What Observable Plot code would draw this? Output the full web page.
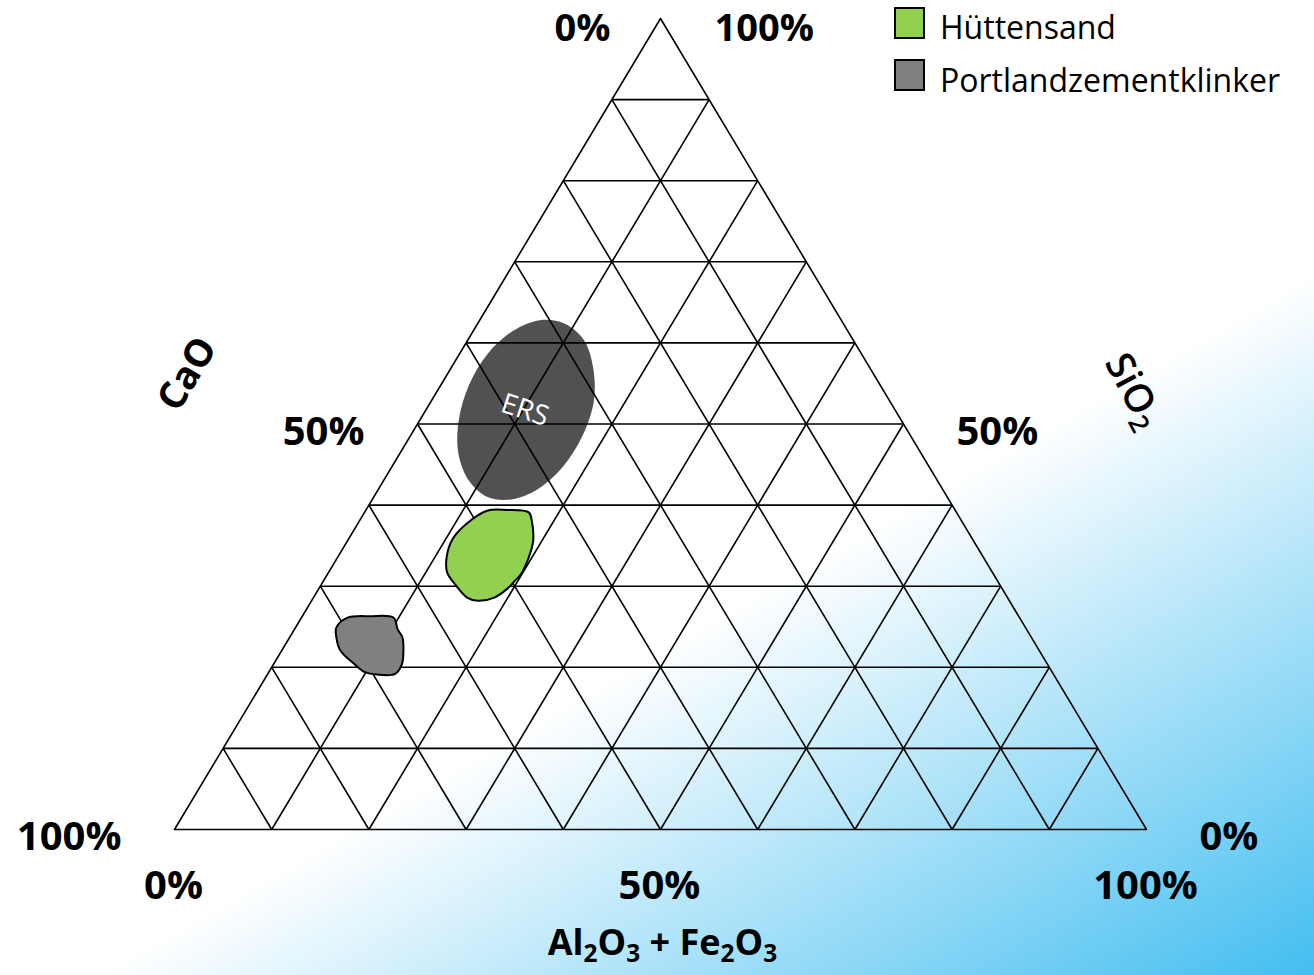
<!DOCTYPE html>
<html><head><meta charset="utf-8">
<script src="https://cdn.jsdelivr.net/npm/d3@7"></script>
<script src="https://cdn.jsdelivr.net/npm/@observablehq/plot@0.6"></script>
<style>
html,body{margin:0;padding:0;overflow:hidden;background:#fff;}
#wrap{position:relative;width:1314px;height:975px;background:linear-gradient(150deg,#ffffff 0%,#ffffff 59.5%,#43bef0 100%);font-family:"Open Sans",sans-serif;}
#chart svg{display:block;}
.sw{position:absolute;left:894px;width:31px;height:32px;box-sizing:border-box;border:2px solid #000;}
.lt{position:absolute;left:940px;font-size:32px;line-height:32px;color:#000;white-space:nowrap;}
</style></head>
<body><div id="wrap"><div id="chart"></div></div>
<script>
// ---- data (ternary compositions in %: CaO, SiO2; Al2O3+Fe2O3 = rest) ----
const ersCaO  = [28.7,27.7,28.4,30.4,33.7,37.6,41.6,45.0,47.3,48.2,47.6,45.5,42.3,38.4,34.4,31.0];
const ersSiO2 = [62.4,60.4,57.1,52.9,48.6,44.8,42.0,40.7,41.0,43.0,46.4,50.5,54.8,58.7,61.5,62.8];
const ersLabel = {name: "ERS", CaO: 38.1, SiO2: 51.7};

const slagCaO  = [44.0,46.1,48.2,51.1,53.5,55.2,56.1,56.0,55.6,54.7,52.8,50.9,49.6,48.6,46.9,45.3,44.2];
const slagSiO2 = [39.1,39.4,39.3,37.7,35.8,33.6,31.7,30.1,28.6,28.2,28.6,29.7,30.7,31.5,33.4,35.6,38.1];

const clinkerCaO  = [69.2,66.7,64.4,64.7,64.7,65.4,66.4,67.7,69.6,70.7,71.3,71.9,71.5,70.9];
const clinkerSiO2 = [26.1,26.3,26.1,24.7,23.7,22.1,20.4,19.2,19.1,19.4,20.4,22.1,23.7,24.9];

const gridSteps = [10,20,30,40,50,60,70,80,90];
const tickValues = [0,50,100];
const axisTitles = ["CaO", "SiO_2", "Al_2O_3 + Fe_2O_3"];
const legendNames = ["Hüttensand", "Portlandzementklinker"];
const legendColors = ["#92d050", "#808080"];

// ---- ternary projection ----
const tern = (ca, si) => ({x: (100 - ca - si + si / 2) / 100, y: si / 100});
const shape = (cas, sis) => cas.map((c, i) => tern(c, sis[i]));

const ers = shape(ersCaO, ersSiO2);
const slag = shape(slagCaO, slagSiO2);
const clinker = shape(clinkerCaO, clinkerSiO2);

const grid = [];
for (const k of gridSteps) {
  const a = tern(100 - k, k), b = tern(0, k);          // SiO2 constant
  grid.push({x1: a.x, y1: a.y, x2: b.x, y2: b.y});
  const c = tern(k, 100 - k), d = tern(k, 0);          // CaO constant
  grid.push({x1: c.x, y1: c.y, x2: d.x, y2: d.y});
  const e = tern(100 - k, 0), f = tern(0, 100 - k);    // Al2O3+Fe2O3 constant
  grid.push({x1: e.x, y1: e.y, x2: f.x, y2: f.y});
}
const border = [tern(100, 0), tern(0, 0), tern(0, 100)];

const FONT = "Open Sans";
const pctStyle = {fontSize: 40, fontWeight: "bold", fill: "black", fontFamily: FONT};
const topTicks = tickValues.filter(t => t === 0);
const midTicks = tickValues.filter(t => t !== 0);

const chart = Plot.plot({
  width: 1314, height: 975,
  marginLeft: 174, marginRight: 168, marginTop: 18, marginBottom: 146,
  x: {domain: [0, 1], axis: null},
  y: {domain: [0, 1], axis: null},
  style: {background: "transparent", overflow: "visible", fontFamily: FONT},
  marks: [
    Plot.line(ers, {x: "x", y: "y", curve: "catmull-rom-closed", fill: "#515151", stroke: "none"}),
    Plot.link(grid, {x1: "x1", y1: "y1", x2: "x2", y2: "y2", stroke: "black", strokeWidth: 1.6}),
    Plot.line(border, {x: "x", y: "y", curve: "linear-closed", stroke: "black", strokeWidth: 1.6, fill: "none"}),
    Plot.line(slag, {x: "x", y: "y", curve: "catmull-rom-closed", fill: legendColors[0], stroke: "black", strokeWidth: 2}),
    Plot.line(clinker, {x: "x", y: "y", curve: "catmull-rom-closed", fill: legendColors[1], stroke: "black", strokeWidth: 2}),
    Plot.text([ersLabel], {x: d => tern(d.CaO, d.SiO2).x, y: d => tern(d.CaO, d.SiO2).y, text: "name",
      rotate: 18, fill: "white", fontSize: 28, fontFamily: FONT}),
    // CaO axis (left edge): top label separately so it stays inside the page
    Plot.text(topTicks, {x: t => tern(t, 100 - t).x, y: t => tern(t, 100 - t).y, text: t => t + "%",
      textAnchor: "end", dx: -50, dy: 10, ...pctStyle, fontSize: 38}),
    Plot.text(midTicks, {x: t => tern(t, 100 - t).x, y: t => tern(t, 100 - t).y, text: t => t + "%",
      textAnchor: "end", dx: -53, dy: 8, ...pctStyle}),
    // SiO2 axis (right edge)
    Plot.text(tickValues.filter(t => t === 100), {x: t => tern(0, t).x, y: t => tern(0, t).y, text: t => t + "%",
      textAnchor: "start", dx: 54, dy: 10, ...pctStyle, fontSize: 38}),
    Plot.text(tickValues.filter(t => t !== 100), {x: t => tern(0, t).x, y: t => tern(0, t).y, text: t => t + "%",
      textAnchor: "start", dx: 53, dy: 8, ...pctStyle}),
    // Al2O3+Fe2O3 axis (bottom)
    Plot.text(tickValues, {x: t => tern(100 - t, 0).x, y: t => tern(100 - t, 0).y, text: t => t + "%",
      dx: -1, dy: 57, ...pctStyle}),
    Plot.text([axisTitles[0]], {x: tern(50, 50).x, y: tern(50, 50).y, text: d => d, rotate: -59,
      dx: -230, dy: -50, fontSize: 38, fontWeight: "bold", fill: "black", fontFamily: FONT}),
    Plot.text([axisTitles[1]], {x: tern(0, 50).x, y: tern(0, 50).y, text: d => d, rotate: 62,
      dx: 230, dy: -33, fontSize: 39, fontWeight: 600, fill: "black", fontFamily: FONT}),
    Plot.text([axisTitles[2]], {x: tern(50, 0).x, y: tern(50, 0).y, text: d => d,
      dx: 2, dy: 114, fontSize: 36, fontWeight: "bold", fill: "black", fontFamily: FONT})
  ]
});

// subscripts: "_n" -> lowered smaller digit
d3.select(chart).selectAll("text").each(function () {
  const s = this.textContent;
  if (!s.includes("_")) return;
  const el = d3.select(this);
  el.text(null);
  const parts = s.split(/(_\d)/).filter(p => p);
  let shifted = false;
  for (const p of parts) {
    if (p[0] === "_") {
      el.append("tspan").attr("dy", "0.28em").attr("font-size", "0.68em").text(p.slice(1));
      shifted = true;
    } else {
      const t = el.append("tspan").text(p);
      if (shifted) { t.attr("dy", "-0.19em"); shifted = false; }
    }
  }
});

document.getElementById("chart").appendChild(chart);

// legend
const wrap = document.getElementById("wrap");
legendNames.forEach((name, i) => {
  const sw = document.createElement("div");
  sw.className = "sw";
  sw.style.top = (7 + i * 51.5) + "px";
  sw.style.background = legendColors[i];
  wrap.appendChild(sw);
  const lt = document.createElement("div");
  lt.className = "lt";
  lt.style.top = (10.5 + i * 53) + "px";
  lt.textContent = name;
  wrap.appendChild(lt);
});
</script></body></html>
